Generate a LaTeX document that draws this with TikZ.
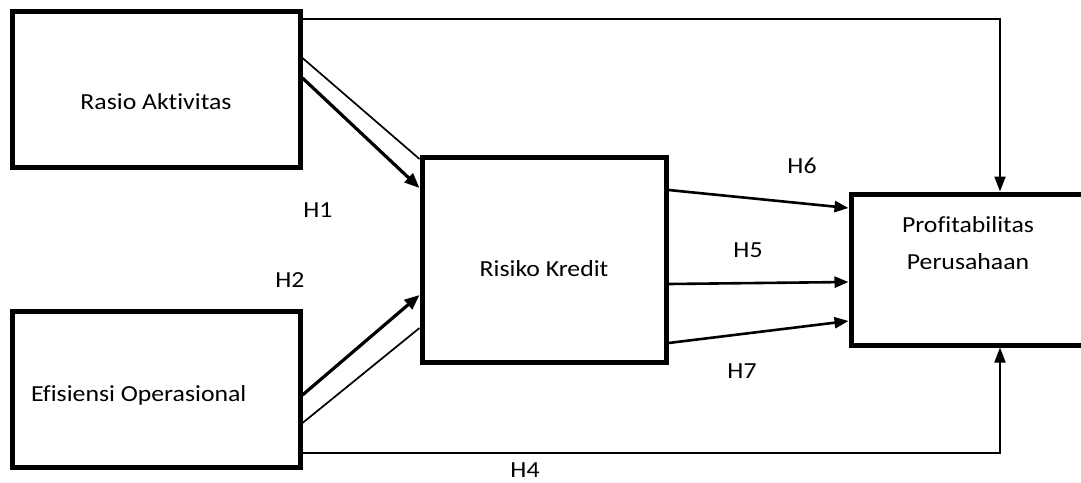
\documentclass[tikz,border=0pt]{standalone}
\usepackage{fontspec}
\setmainfont{Carlito}[FakeStretch=1.12,Ligatures=NoCommon]
\usetikzlibrary{arrows.meta}

\begin{document}
\begin{tikzpicture}[x=1pt,y=-1pt,
    box/.style={draw,line width=5pt,minimum width=288pt,minimum height=156pt,inner sep=0pt},
    lbl/.style={font=\fontsize{23}{27}\selectfont,inner sep=0pt,anchor=base},
    thinline/.style={line width=1.7pt},
    thickarrow/.style={line width=3.2pt,-{Triangle[length=15pt,width=12pt]}},
    arrow/.style={line width=2.6pt,-{Triangle[length=14pt,width=11pt]}},
    vline/.style={line width=2pt,-{Triangle[length=15pt,width=11pt]}}]
    \useasboundingbox (0,0) rectangle (1081,482);
    \clip (0,0) rectangle (1081,482);

    % Variables
    \node[box] (ra) at (156,89.5) {};
    \node[box] (ef) at (156,389.5) {};
    \node[box,minimum width=244pt,minimum height=205pt] (rk) at (544,259.5) {};
    \node[box,minimum width=298pt,minimum height=151pt] (pr) at (1000,269.5) {};

    \node[lbl] (ratxt) at (156,109.3) {Rasio Aktivitas};
    \node[lbl,anchor=base west] (eftxt) at (31,401.5) {Efisiensi Operasional};
    \node[lbl] (rktxt) at (544,276) {Risiko Kredit};
    \node[lbl,anchor=center,align=center,font=\fontsize{23}{37}\selectfont] (prtxt) at (968,243) {Profitabilitas\\Perusahaan};

    % H1 and H2 into Risiko Kredit
    \draw[thinline] ([yshift=31.5pt]ra.east) -- ([yshift=-4.5pt]rk.north west);
    \draw[thickarrow] ([yshift=11.5pt]ra.east) -- ([yshift=-33.5pt]rk.north west);
    \draw[thickarrow] ([yshift=-5.5pt]ef.east) -- ([yshift=-35.5pt]rk.west);
    \draw[thinline] ([yshift=-33.5pt]ef.east) -- ([yshift=-68.5pt]rk.west);

    % H6, H5, H7 into Profitabilitas
    \draw[arrow] ([yshift=69.5pt]rk.east) -- ([yshift=61.5pt]pr.west);
    \draw[arrow] ([yshift=-24.5pt]rk.east) -- ([yshift=-12.5pt]pr.west);
    \draw[arrow] ([yshift=-83.5pt]rk.east) -- ([yshift=-51.5pt]pr.west);

    % Direct paths (top and H4)
    \draw[vline] ([yshift=-10pt]ra.north east) -| (pr.north);
    \draw[vline] ([yshift=-63.5pt]ef.east) -| (pr.south);

    % Hypothesis labels
    \node[lbl] (h1) at (318,217) {H1};
    \node[lbl] (h2) at (290,287) {H2};
    \node[lbl] (h6) at (802,173) {H6};
    \node[lbl] (h5) at (748,257) {H5};
    \node[lbl] (h7) at (742,378) {H7};
    \node[lbl] (h4) at (525,477) {H4};
\end{tikzpicture}
\end{document}
